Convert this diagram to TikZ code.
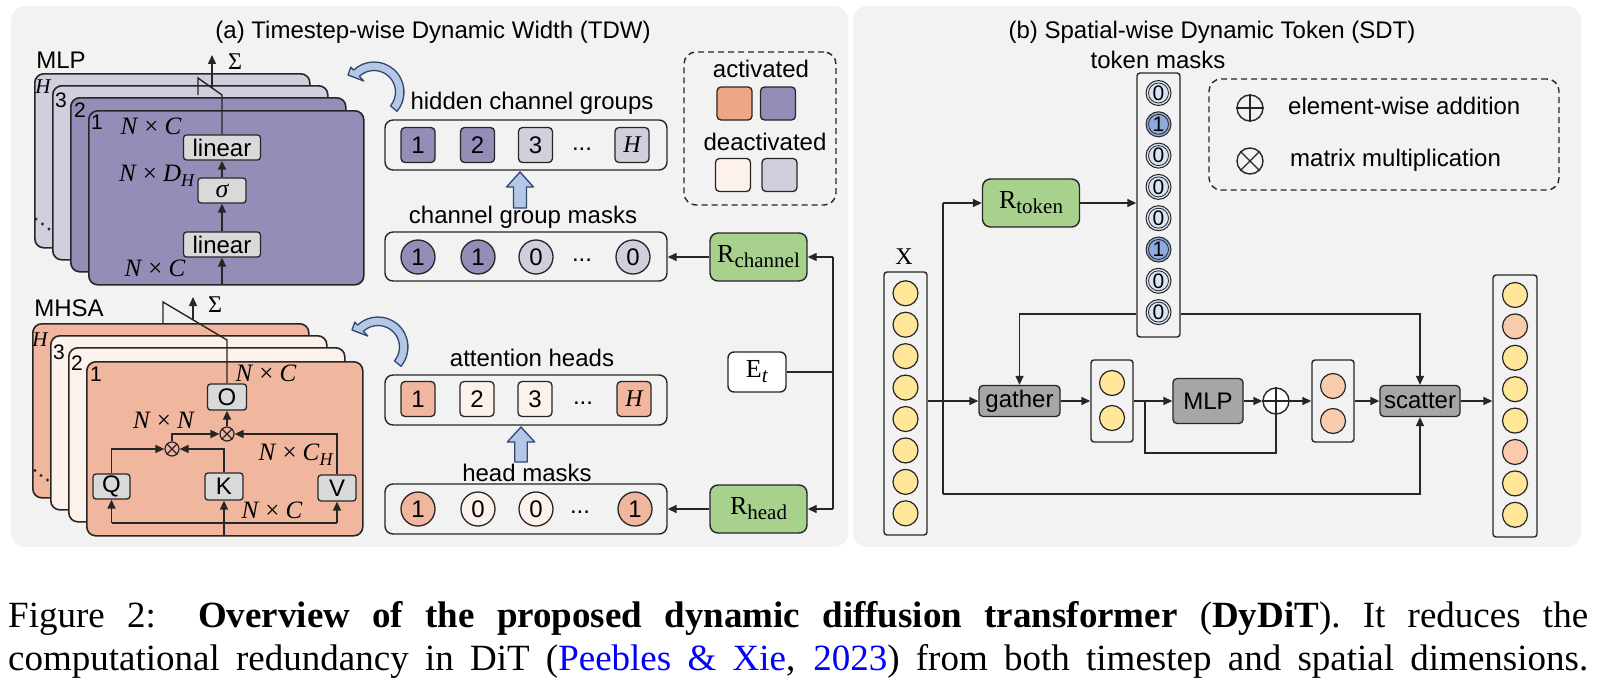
\documentclass[tikz,border=0pt]{standalone}
\usepackage{fontspec}
\setmainfont{Liberation Sans}
\newfontfamily\tms{Liberation Serif}
\usetikzlibrary{arrows.meta}
\definecolor{linecol}{RGB}{38,38,38}
\definecolor{panel}{RGB}{242,242,242}
\definecolor{purp}{RGB}{146,142,183}
\definecolor{lav}{RGB}{207,207,222}
\definecolor{salm}{RGB}{240,183,158}
\definecolor{salmleg}{RGB}{236,168,132}
\definecolor{cream}{RGB}{252,241,235}
\definecolor{rgreen}{RGB}{169,209,142}
\definecolor{boxgray}{RGB}{217,217,217}
\definecolor{dgray}{RGB}{166,166,166}
\definecolor{yel}{RGB}{255,230,153}
\definecolor{peach}{RGB}{248,203,173}
\definecolor{m0}{RGB}{218,227,243}
\definecolor{m1}{RGB}{143,170,220}
\definecolor{lightarrow}{RGB}{180,199,231}
\definecolor{arrowblue}{RGB}{50,70,110}
\definecolor{citeblue}{RGB}{0,0,255}
\newcommand\fs[1]{\fontsize{#1}{#1}\selectfont}
\newcommand\mx[2]{{\tms\fs{25}\textit{N}\kern6pt×\kern6pt\textit{#1}#2}}
\newcommand\subH{\raisebox{-5pt}{\fs{18}\textit{H}}}
\tikzset{
  conn/.style={draw=linecol, line width=1.4pt},
  arr/.style={conn, -{Triangle[length=9pt,width=8pt]}},
  card/.style={draw=linecol, line width=1.6pt, rounded corners=9pt, minimum width=276pt, minimum height=174pt, anchor=north west, inner sep=0pt},
  lgbox/.style={draw=linecol, fill=boxgray, line width=1.3pt, rounded corners=3pt, inner sep=0pt, font=\fs{24}},
  dgbox/.style={draw=linecol, fill=dgray, line width=1.3pt, rounded corners=4pt, inner sep=0pt, font=\fs{24}},
  sq/.style={draw=linecol, line width=1.3pt, rounded corners=4pt, minimum width=34pt, minimum height=35pt, inner sep=0pt, font=\fs{24}},
  mk/.style={draw=linecol, circle, line width=1.3pt, minimum size=34pt, inner sep=0pt, font=\fs{24}},
  cont/.style={draw=linecol, line width=1.4pt, rounded corners=8pt, inner sep=0pt},
  col/.style={draw=linecol, line width=1.4pt, rounded corners=3pt, inner sep=0pt},
  rbox/.style={draw=linecol, fill=rgreen, line width=1.4pt, rounded corners=8pt, inner sep=0pt, minimum width=97pt, minimum height=48pt},
  xc/.style={draw=linecol, circle, line width=1.2pt, minimum size=25pt, inner sep=0pt},
  tok/.style={draw=linecol, circle, line width=1pt, minimum size=25pt, inner sep=0pt, font=\fs{21},
    path picture={\draw[linecol, line width=0.8pt] (path picture bounding box.center) circle[radius=10pt];}},
  lbl/.style={inner sep=0pt, font=\fs{24}},
  cardnum/.style={inner sep=0pt, font=\fs{21}},
  bigarrow/.style={draw=arrowblue, fill=lightarrow, line width=1.3pt, line join=round},
  opc/.style={draw=linecol, circle, line width=1.4pt, minimum size=26pt, inner sep=0pt},
  legbox/.style={draw=linecol, line width=1.4pt, dash pattern=on 6pt off 4pt, rounded corners=12pt, inner sep=0pt},
}
\newcommand\curvarrow[1]{%
  \begin{scope}[shift={#1}]
    \path[bigarrow] (40:30) arc[start angle=40,end angle=-133,radius=30] -- (-133:34) -- (-26,-17) -- (-133:15) -- (-133:21.5) arc[start angle=-133,end angle=40,radius=21.5] -- cycle;
  \end{scope}}
\newcommand\oplusdraw[1]{\draw[linecol, line width=1.4pt] (#1.north) -- (#1.south) (#1.west) -- (#1.east);}
\newcommand\otimesdraw[1]{\draw[linecol, line width=1.2pt] (#1.north west) -- (#1.south east) (#1.north east) -- (#1.south west);}
\begin{document}
\begin{tikzpicture}[x=1pt,y=-1pt]
\useasboundingbox (0,0) rectangle (1597,685);
\fill[white] (0,0) rectangle (1597,685);
% panels
\fill[panel, rounded corners=14pt] (11,6) rectangle (848,547);
\fill[panel, rounded corners=14pt] (853,6) rectangle (1581,547);

% ===== (a) =====
\node[lbl] (ta) at (433,32) {(a) Timestep-wise Dynamic Width (TDW)};
\node[lbl] (mlpl) at (61,60) {MLP};
\node[card, fill=lav, minimum width=275pt] (mH) at (34,73) {};
\node[card, fill=lav, minimum width=275pt] (m3) at (52,85) {};
\node[card, fill=purp, minimum width=275pt] (m2) at (70,97) {};
\node[card, fill=purp, minimum width=275pt] (m1) at (88,110) {};
\node[cardnum] (mHl) at (43,87) {\tms\itshape H};
\node[cardnum] (m3l) at (61,100) {3};
\node[cardnum] (m2l) at (80,110) {2};
\node[cardnum] (m1l) at (97,122) {1};
\fill[linecol] (36,219) circle[radius=1.6pt] (42.5,224) circle[radius=1.6pt] (49,229) circle[radius=1.6pt];

\node[lgbox, minimum width=77pt, minimum height=25pt] (lin2) at (222,147.5) {linear};
\node[lgbox, minimum width=48pt, minimum height=25pt] (sig) at (222,190.5) {\tms\itshape\fs{26}σ};
\node[lgbox, minimum width=77pt, minimum height=25pt] (lin1) at (222,244.5) {linear};
\coordinate (mlpin) at (222,284);
\draw[arr] (mlpin) -- (lin1.south);
\draw[arr] (lin1.north) -- (sig.south);
\draw[arr] (sig.north) -- (lin2.south);
\coordinate (mj1) at (222,95);
\coordinate (mj2) at (198,78);
\coordinate (mj3) at (198,95);
\coordinate (ms) at (212,88);
\coordinate (mst) at (212,55);
\draw[conn] (lin2.north) -- (mj1) -- (mj2) -- (mj3);
\draw[arr] (ms) -- (mst);
\node[lbl] (msig) at (235,62) {\tms Σ};
\node[lbl] (dm1) at (151,126) {\mx{C}{}};
\node[lbl] (dm2) at (157,176) {\mx{D}{\subH}};
\node[lbl] (dm3) at (155,268) {\mx{C}{}};

% MHSA
\node[lbl] (mhsal) at (69,308) {MHSA};
\node[card, fill=salm] (hH) at (32,323) {};
\node[card, fill=cream] (h3) at (50,335) {};
\node[card, fill=cream] (h2) at (68,347) {};
\node[card, fill=salm] (h1) at (86,361) {};
\node[cardnum] (hHl) at (40,340) {\tms\itshape H};
\node[cardnum] (h3l) at (59,352) {3};
\node[cardnum] (h2l) at (77,363) {2};
\node[cardnum] (h1l) at (96,374) {1};
\fill[linecol] (35,470.5) circle[radius=1.6pt] (41,475.5) circle[radius=1.6pt] (47.5,480) circle[radius=1.6pt];

\node[lgbox, minimum width=39pt, minimum height=26pt] (O) at (227,397) {O};
\node[lgbox, minimum width=37pt, minimum height=25pt] (Q) at (111.5,486.5) {Q};
\node[lgbox, minimum width=38pt, minimum height=27pt] (K) at (224,486.5) {K};
\node[lgbox, minimum width=38pt, minimum height=26pt] (V) at (337,488) {V};
\node[opc, minimum size=14pt, line width=1.2pt] (mu) at (227,434) {};
\node[opc, minimum size=14pt, line width=1.2pt] (ml) at (172,449) {};
\otimesdraw{mu}
\otimesdraw{ml}
\draw[arr] (mu.north) -- (O.south);
\draw[arr] (ml.north) |- (mu.west);
\draw[arr] (V.north) |- (mu.east);
\draw[arr] (Q.north) |- (ml.west);
\draw[arr] (K.north) |- (ml.east);
\coordinate (hin) at (224,535);
\coordinate (hl) at (111.5,523);
\coordinate (hr) at (337,523);
\draw[arr] (hin) -- (K.south);
\draw[conn] (hl) -- (hr);
\draw[arr] (hl) -- (Q.south);
\draw[arr] (hr) -- (V.south);
\coordinate (hj1) at (163,323);
\coordinate (hj2) at (163,302);
\coordinate (hj3) at (227,340);
\coordinate (hs) at (193,320);
\coordinate (hst) at (193,297);
\draw[conn] (hj1) -- (hj2) -- (hj3) -- (O.north);
\draw[arr] (hs) -- (hst);
\node[lbl] (hsig) at (215,305) {\tms Σ};
\node[lbl] (dh1) at (266,373) {\mx{C}{}};
\node[lbl] (dh2) at (164,420) {\mx{N}{}};
\node[lbl] (dh3) at (296,455) {\mx{C}{\subH}};
\node[lbl] (dh4) at (272,510) {\mx{C}{}};

% curved arrows
\curvarrow{(374,92)}
\curvarrow{(378,347)}

% hidden channel groups
\node[lbl] (hcgl) at (532,103) {hidden channel groups};
\node[cont, minimum width=282pt, minimum height=50pt] (hcg) at (526,145) {};
\node[sq, fill=purp] (g1) at (418,145) {1};
\node[sq, fill=purp] (g2) at (477.5,145) {2};
\node[sq, fill=lav] (g3) at (535.5,145) {3};
\node[lbl] (gd) at (582,149) {...};
\node[sq, fill=lav] (gH) at (632,145) {\tms\itshape H};
\path[bigarrow] (513.5,208) -- (526.5,208) -- (526.5,187) -- (533.5,187) -- (520,172) -- (506.5,187) -- (513.5,187) -- cycle;
\node[lbl] (cgml) at (523,217) {channel group masks};
\node[cont, minimum width=282pt, minimum height=49pt] (cgm) at (526,256.5) {};
\node[mk, fill=purp] (c1) at (418,257) {1};
\node[mk, fill=purp] (c2) at (478,257) {1};
\node[mk, fill=lav] (c3) at (536,257) {0};
\node[lbl] (cd) at (582,260) {...};
\node[mk, fill=lav] (cH) at (633,257) {0};
\node[rbox] (rch) at (758.5,257) {\tms\fs{26}R\raisebox{-5pt}{\fs{21}channel}};
\draw[arr] (rch.west) -- (rch.west -| cgm.east);

% legend (a)
\node[legbox, minimum width=152pt, minimum height=153pt] (lega) at (760,128.5) {};
\node[lbl] (acl) at (761,69) {activated};
\node[sq, fill=salmleg, minimum height=33pt, minimum width=35pt] (la1) at (734.5,103.5) {};
\node[sq, fill=purp, minimum height=33pt, minimum width=35pt] (la2) at (778,103.5) {};
\node[lbl] (dcl) at (765,142) {deactivated};
\node[sq, fill=cream, minimum height=33pt, minimum width=35pt] (ld1) at (733,175) {};
\node[sq, fill=lav, minimum height=33pt, minimum width=35pt] (ld2) at (779.5,175) {};

% attention heads
\node[lbl] (ahl) at (532,358) {attention heads};
\node[cont, minimum width=282pt, minimum height=50pt] (ah) at (526,400) {};
\node[sq, fill=salm] (a1) at (418,399) {1};
\node[sq, fill=cream] (a2) at (477,399) {2};
\node[sq, fill=cream] (a3) at (535,399) {3};
\node[lbl] (ad) at (583,403) {...};
\node[sq, fill=salm] (aH) at (634,399) {\tms\itshape H};
\path[bigarrow] (514.7,462) -- (527.3,462) -- (527.3,442) -- (534.7,442) -- (521,427) -- (507.3,442) -- (514.7,442) -- cycle;
\node[lbl] (hml) at (527,473) {head masks};
\node[cont, minimum width=282pt, minimum height=50pt] (hm) at (526,509) {};
\node[mk, fill=salm] (k1) at (418,509) {1};
\node[mk, fill=cream] (k2) at (478,509) {0};
\node[mk, fill=cream] (k3) at (536,509) {0};
\node[lbl] (kd) at (580,512) {...};
\node[mk, fill=salm] (kH) at (635,509) {1};
\node[rbox] (rhd) at (758.5,509) {\tms\fs{26}R\raisebox{-5pt}{\fs{21}head}};
\draw[arr] (rhd.west) -- (rhd.west -| hm.east);

\node[draw=linecol, fill=white, line width=1.4pt, rounded corners=6pt, minimum width=58pt, minimum height=40pt, inner sep=0pt] (et) at (757,372) {\tms\fs{26}E\raisebox{-5pt}{\fs{21}\textit{t}}};
\coordinate (bt) at (833,257);
\coordinate (bm) at (833,372);
\coordinate (bb) at (833,509);
\draw[conn] (et.east) -- (bm);
\draw[conn] (bt) -- (bb);
\draw[arr] (bt) -- (rch.east);
\draw[arr] (bb) -- (rhd.east);

% ===== (b) =====
\node[lbl] (tb) at (1212,32) {(b) Spatial-wise Dynamic Token (SDT)};
\node[lbl] (tml) at (1158,60) {token masks};
\node[col, minimum width=43pt, minimum height=264pt] (tokcol) at (1158.5,205) {};
\foreach \v [count=\i from 0] in {0,1,0,0,0,1,0,0}
  \node[tok, fill=m\v] (t\i) at (1158.5,{93+31.3*\i}) {\v};

\node[legbox, minimum width=350pt, minimum height=111pt] (legb) at (1384,134.5) {};
\node[opc] (lp) at (1250,108) {};
\oplusdraw{lp}
\node[opc] (lx) at (1250,161) {};
\otimesdraw{lx}
\node[lbl, anchor=west] (lpt) at (1288,106) {element-wise addition};
\node[lbl, anchor=west] (lxt) at (1290,160) {matrix multiplication};

\node[rbox] (rtok) at (1031,203) {\tms\fs{26}R\raisebox{-5pt}{\fs{21}token}};

\node[lbl] (xl) at (904,257) {\tms X};
\node[col, minimum width=43pt, minimum height=263pt] (xcol) at (905.5,403.5) {};
\foreach \i in {0,...,7}
  \node[xc, fill=yel] (x\i) at (905.5,{293.3+31.43*\i}) {};

\node[dgbox, minimum width=81pt, minimum height=31pt] (gat) at (1019.5,401) {gather};
\node[col, minimum width=42pt, minimum height=82pt] (cA) at (1112,401) {};
\node[xc, fill=yel] (cA1) at (1112,383) {};
\node[xc, fill=yel] (cA2) at (1112,418) {};
\node[dgbox, minimum width=70pt, minimum height=45pt] (mlp) at (1208,401) {MLP};
\node[opc, fill=white] (pl) at (1276,401) {};
\oplusdraw{pl}
\node[col, minimum width=42pt, minimum height=82pt] (cB) at (1333,401) {};
\node[xc, fill=peach] (cB1) at (1333,386) {};
\node[xc, fill=peach] (cB2) at (1333,421) {};
\node[dgbox, minimum width=80pt, minimum height=31pt] (sca) at (1420,401) {scatter};
\node[col, minimum width=44pt, minimum height=262pt] (ocol) at (1515,406) {};
\foreach \c [count=\i from 0] in {yel,peach,yel,yel,yel,peach,yel,yel}
  \node[xc, fill=\c] (o\i) at (1515,{295+31.4*\i}) {};

\coordinate (xj) at (943,401);
\coordinate (xt) at (943,203);
\coordinate (xb) at (943,494);
\coordinate (tmy) at (1158,314);
\coordinate (br) at (1145,401);
\coordinate (bl) at (1145,453);
\draw[conn] (xcol.east |- xj) -- (xj);
\draw[conn] (xt) -- (xb);
\draw[arr] (xj) -- (gat.west);
\draw[arr] (xt) -- (rtok.west);
\draw[arr] (xb) -| (sca.south);
\draw[arr] (rtok.east) -- (rtok.east -| tokcol.west);
\draw[arr] (tokcol.west |- tmy) -| (gat.north);
\draw[arr] (tokcol.east |- tmy) -| (sca.north);
\draw[arr] (gat.east) -- (cA.west);
\draw[arr] (cA.east) -- (mlp.west);
\draw[conn] (br) -- (bl) -| (pl.south);
\draw[arr] (mlp.east) -- (pl.west);
\draw[arr] (pl.east) -- (cB.west);
\draw[arr] (cB.east) -- (sca.west);
\draw[arr] (sca.east) -- (sca.east -| ocol.west);

% caption
\node[anchor=base west, inner sep=0pt] (cap1) at (8,627) {\tms\fs{37}\makebox[1580pt][s]{Figure 2:\hspace{4pt} \textbf{Overview of the proposed dynamic diffusion transformer} (\textbf{DyDiT}). It reduces the}};
\node[anchor=base west, inner sep=0pt] (cap2) at (8,670) {\tms\fs{37}\makebox[1580pt][s]{computational redundancy in DiT (\textcolor{citeblue}{Peebles \& Xie}, \textcolor{citeblue}{2023}) from both timestep and spatial dimensions.}};
\end{tikzpicture}
\end{document}
